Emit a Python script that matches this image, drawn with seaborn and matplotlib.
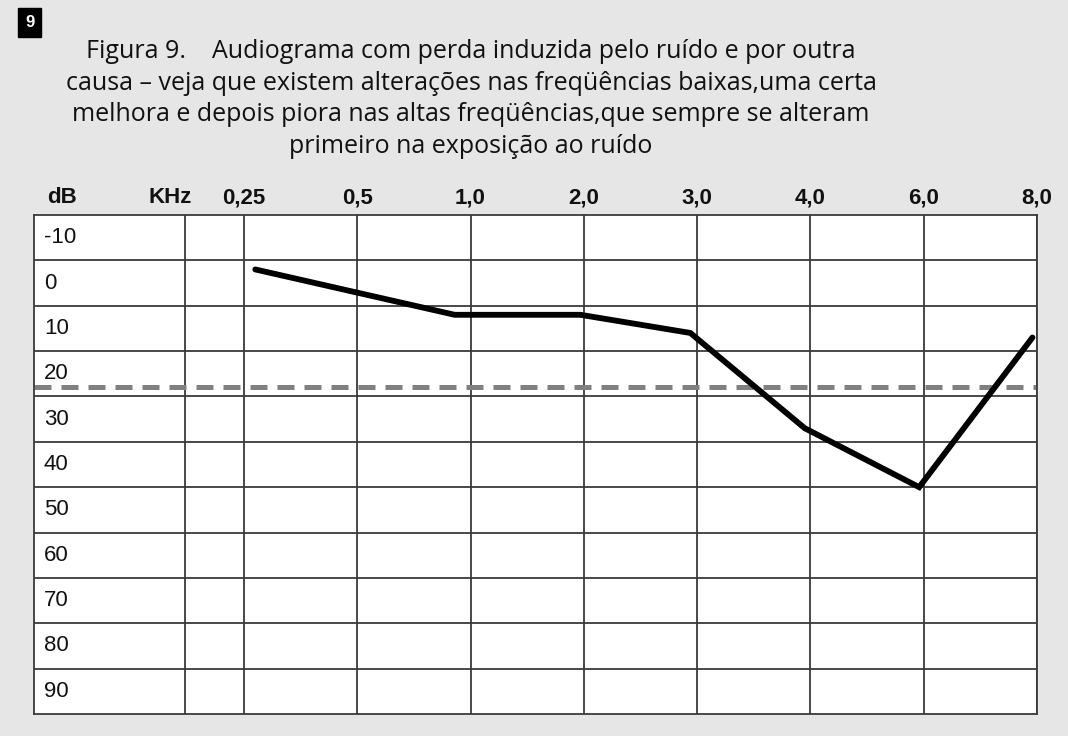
import matplotlib
matplotlib.use("Agg")
import matplotlib.pyplot as plt
import pandas as pd
import seaborn as sns

# frequency header labels (one per vertical line) and dB row labels
freq_labels = ["0,25", "0,5", "1,0", "2,0", "3,0", "4,0", "6,0", "8,0"]
db_rows = [-10, 0, 10, 20, 30, 40, 50, 60, 70, 80, 90]

# audiogram curve, x in frequency-column units (0 = 0,25 ... 7 = 8,0), y in dB
curve_pos = [0.10, 1.86, 2.97, 3.94, 4.95, 5.96, 6.96]
curve_db = [-3, 7, 7, 11, 32, 45, 12]
threshold_db = 23

title = (
    "Figura 9.    Audiograma com perda induzida pelo ruído e por outra\n"
    "causa – veja que existem alterações nas freqüências baixas,uma certa\n"
    "melhora e depois piora nas altas freqüências,que sempre se alteram\n"
    "primeiro na exposição ao ruído"
)

sns.set_theme(style="white")
plt.rcParams["font.family"] = ["Liberation Sans", "DejaVu Sans"]

BG = "#e6e6e6"
GRID = "#3a3a3a"

fig = plt.figure(figsize=(10.68, 7.36), dpi=100, facecolor=BG)
ax = fig.add_axes([34 / 1068, 1 - 714 / 736, (1037 - 34) / 1068, (714 - 215) / 736])
ax.set_facecolor("white")

x_left, x_label_col = -1.853, -0.52
ax.set_xlim(x_left, len(freq_labels) - 1)
ax.set_ylim(db_rows[-1] + 5, db_rows[0] - 5)

# table grid
for xv in [x_label_col] + list(range(len(freq_labels))):
    ax.axvline(xv, color=GRID, lw=1.3, zorder=1)
for db in db_rows[1:]:
    ax.axhline(db - 5, color=GRID, lw=1.3, zorder=1)
for side in ax.spines.values():
    side.set_color(GRID)
    side.set_linewidth(1.3)

# row labels
for db in db_rows:
    ax.text(-1.765, db, str(db), ha="left", va="center", fontsize=16, color="#111111")

# header labels as top ticks
ax.xaxis.tick_top()
ax.set_xticks([-1.606, -0.649] + list(range(len(freq_labels))))
ax.set_xticklabels(["dB", "KHz"] + freq_labels, fontsize=16, fontweight="bold", color="#111111")
ax.tick_params(axis="x", length=0, pad=5)
ax.set_yticks([])

# normal-hearing threshold
ax.axhline(threshold_db, color="#808080", lw=3.6, dashes=(3.4, 2.0), zorder=2)

df = pd.DataFrame({"pos": curve_pos, "db": curve_db})
sns.lineplot(data=df, x="pos", y="db", color="black", lw=4.2, sort=False, ax=ax, zorder=3,
             solid_joinstyle="miter")
ax.set_xlabel("")
ax.set_ylabel("")

fig.text(471 / 1068, 1 - 99 / 736, title, ha="center", va="center", fontsize=18,
         family=["Open Sans", "DejaVu Sans"], color="#111111", linespacing=1.36)

# badge
fig.text(29.5 / 1068, 1 - 22.5 / 736, "9", ha="center", va="center", fontsize=12, fontweight="bold",
         color="white", bbox=dict(boxstyle="square,pad=0.4", facecolor="black", edgecolor="black"))

fig.savefig("out.png", dpi=100, facecolor=BG)
